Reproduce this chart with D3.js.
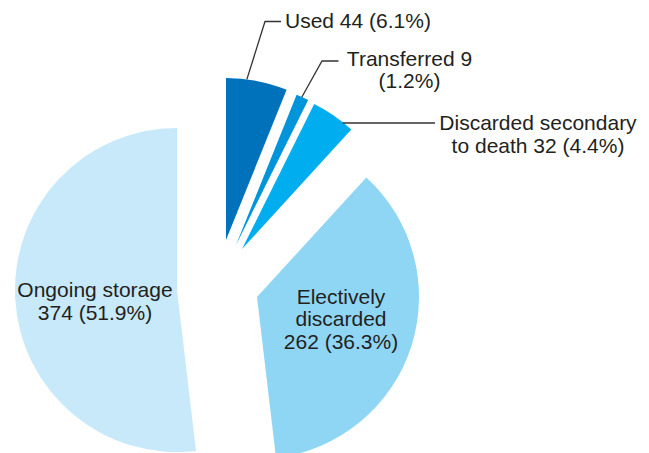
<!DOCTYPE html>
<html lang="en">

<head>
	<meta charset="UTF-8" />
	<title>Exploded pie D3</title>
	<script src="https://cdn.jsdelivr.net/npm/d3@7"></script>
	<style>
		body { margin: 0; background: #fff; }
		text { font-family: "Liberation Sans", Arial, sans-serif; font-size: 21px; fill: #231f20; }
	</style>
</head>

<body>
	<svg id="vis" width="649" height="453"></svg>

	<script>
		// Données
		var categories = ["Used", "Transferred", "Discarded secondary to death", "Electively discarded", "Ongoing storage"];
		var values = [44, 9, 32, 262, 374];
		var percents = ["6.1%", "1.2%", "4.4%", "36.3%", "51.9%"];
		var labelLines = [
			["Used 44 (6.1%)"],
			["Transferred 9", "(1.2%)"],
			["Discarded secondary", "to death 32 (4.4%)"],
			["Electively", "discarded", "262 (36.3%)"],
			["Ongoing storage", "374 (51.9%)"]
		];

		// Mise en page
		var colors = ["#0072bc", "#0095da", "#00aeef", "#8fd6f5", "#c7e9f9"];
		var cx = 177, cy = 290, radius = 162;
		// décalage de chaque part (éclatement)
		var offsets = [[49, -50], [59, -45], [65, -41], [80, 7], [0, 0]];
		// étiquettes : position du texte, ancrage, trait de rappel
		var labelPos = [
			{ x: 285, y: 28, anchor: "start", leader: { angle: 7.4, elbow: [265, 21.5], end: [281, 21.5] } },
			{ x: 409.5, y: 65.5, anchor: "middle", leader: { angle: 24, elbow: [322, 61], end: [338.5, 61] } },
			{ x: 538, y: 130, anchor: "middle", leader: { angle: 38.4, elbow: null, end: [435, 123] } },
			{ x: 341, y: 303.5, anchor: "middle", leader: null },
			{ x: 95, y: 297, anchor: "middle", leader: null }
		];
		var lineHeight = 22.5;

		var svg = d3.select("#vis");

		var pie = d3.pie().sort(null).value(function (d) { return d; });
		var arcs = pie(values);

		var arc = d3.arc().innerRadius(0).outerRadius(radius);

		var gPie = svg.append("g").attr("transform", "translate(" + cx + "," + cy + ")");

		gPie.selectAll("path")
			.data(arcs)
			.enter()
			.append("path")
			.attr("d", arc)
			.attr("fill", function (d, i) { return colors[i]; })
			.attr("transform", function (d, i) { return "translate(" + offsets[i][0] + "," + offsets[i][1] + ")"; });

		// Traits de rappel
		var gLeaders = svg.append("g");
		labelPos.forEach(function (p, i) {
			if (!p.leader) return;
			var a = p.leader.angle * Math.PI / 180;
			var sx = cx + offsets[i][0] + radius * Math.sin(a);
			var sy = cy + offsets[i][1] - radius * Math.cos(a);
			var pts = [[sx, sy]];
			if (p.leader.elbow) pts.push(p.leader.elbow);
			else pts[0][1] = p.leader.end[1];
			pts.push(p.leader.end);
			gLeaders.append("path")
				.attr("d", d3.line()(pts))
				.attr("fill", "none")
				.attr("stroke", "#333")
				.attr("stroke-width", 1.3);
		});

		// Textes
		var gText = svg.append("g");
		labelPos.forEach(function (p, i) {
			var t = gText.append("text")
				.attr("x", p.x)
				.attr("y", p.y)
				.attr("text-anchor", p.anchor);
			labelLines[i].forEach(function (l, j) {
				t.append("tspan")
					.attr("x", p.x)
					.attr("y", p.y + j * lineHeight)
					.text(l);
			});
		});
	</script>
</body>

</html>
